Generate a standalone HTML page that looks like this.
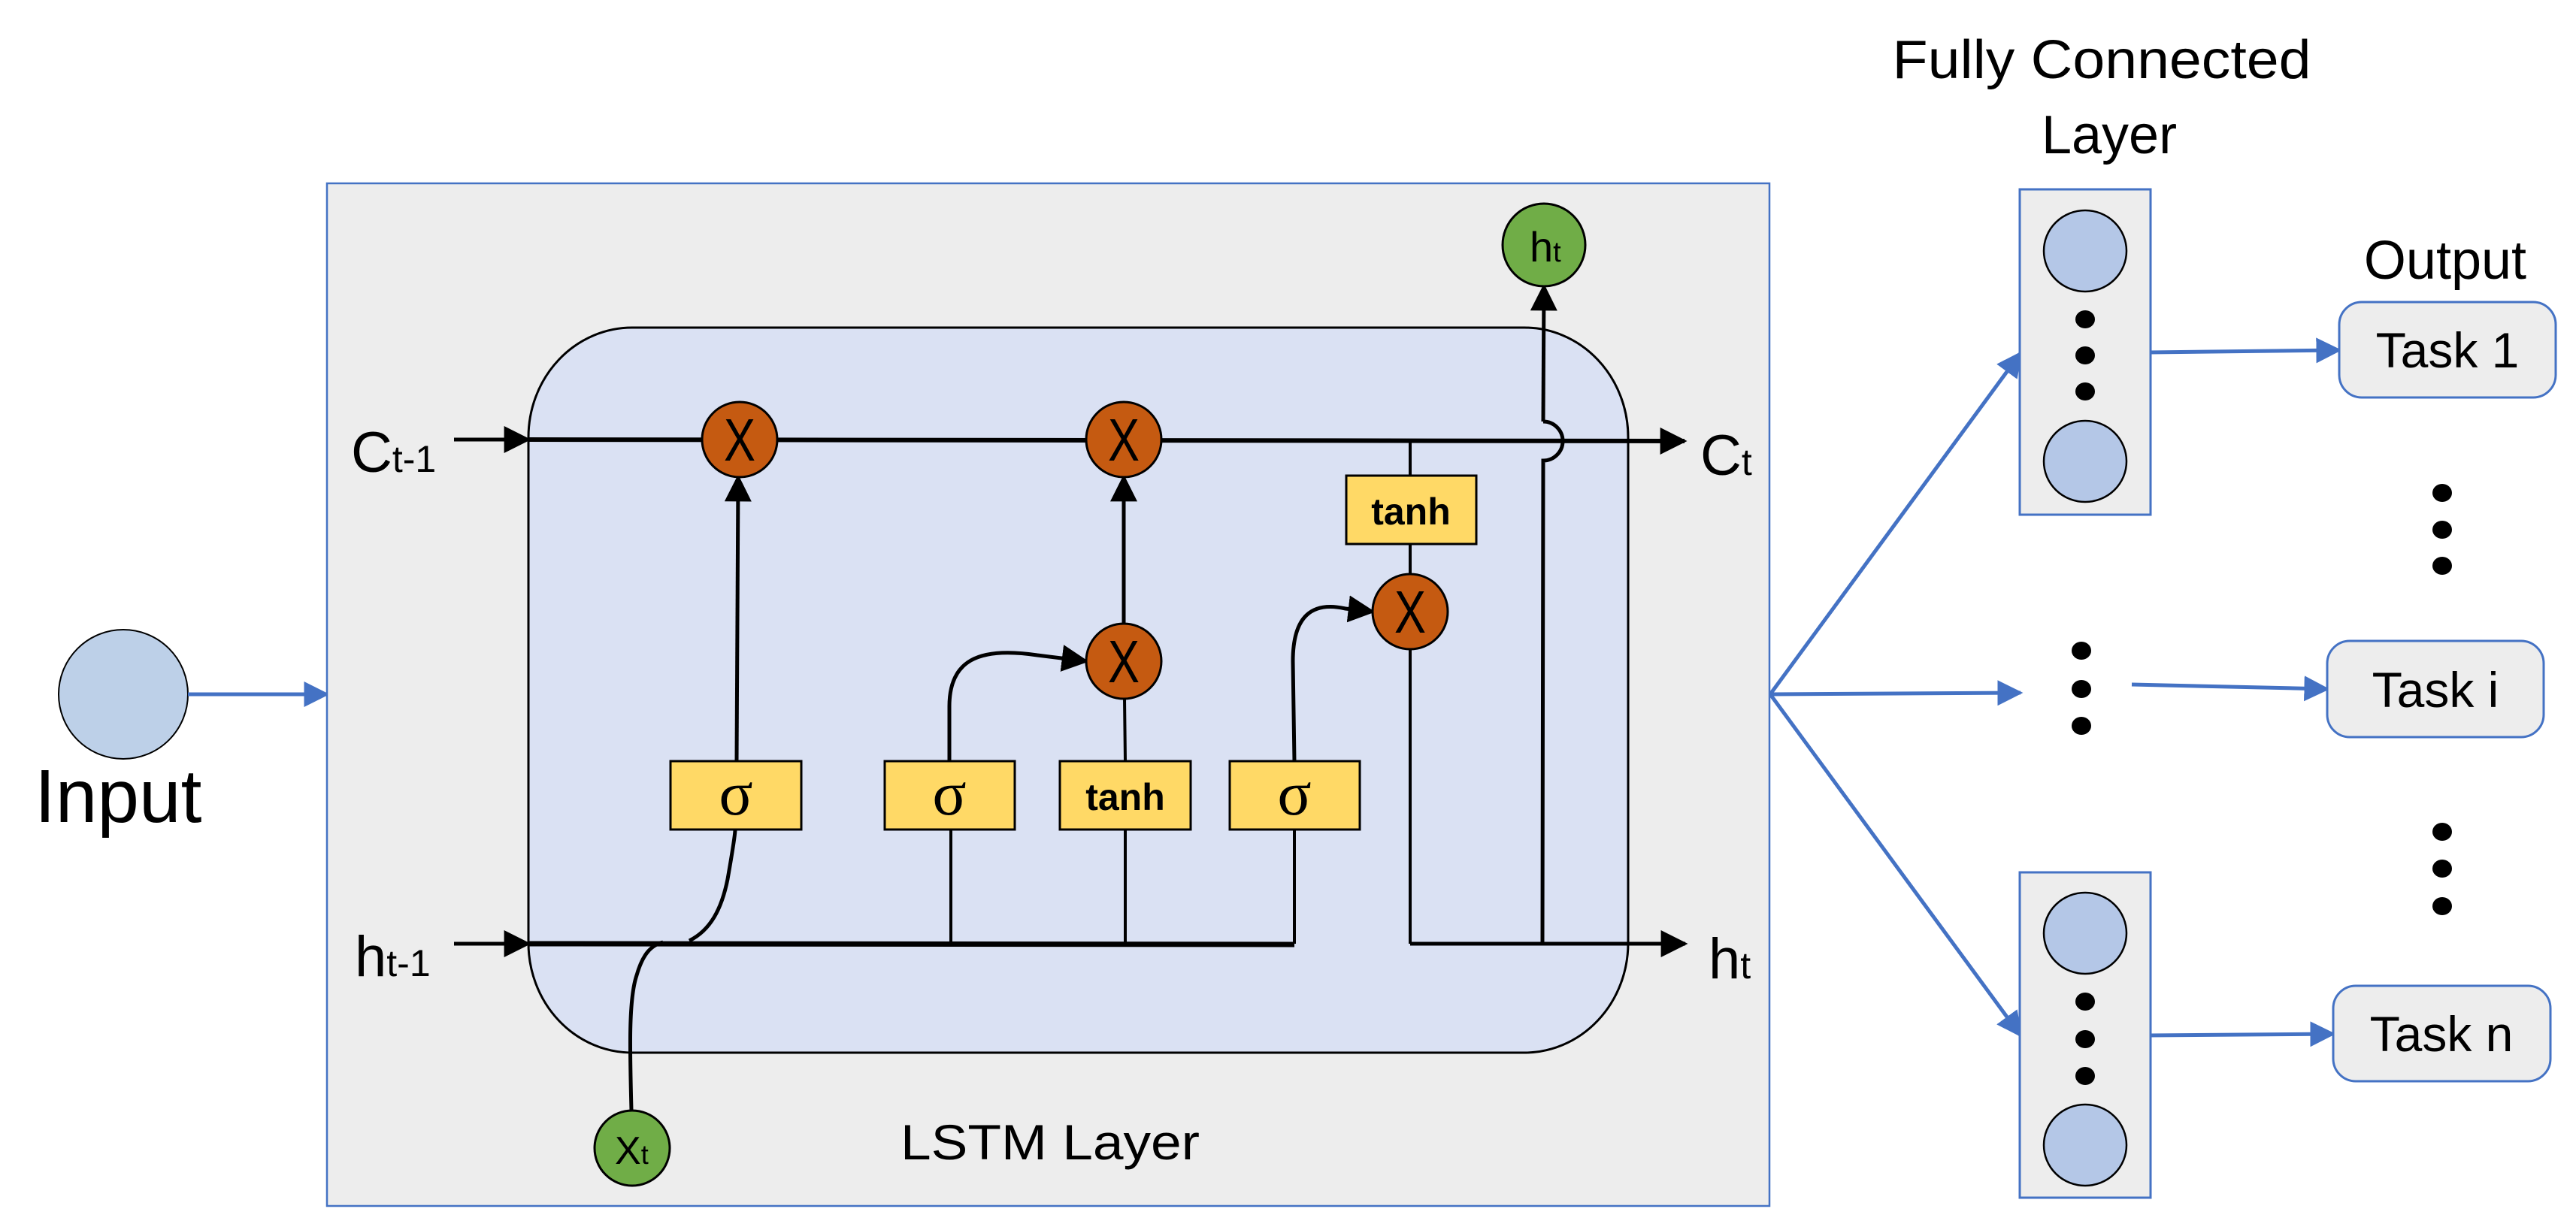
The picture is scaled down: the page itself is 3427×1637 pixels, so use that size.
<!DOCTYPE html>
<html><head><meta charset="utf-8"><style>
html,body{margin:0;padding:0;background:#fff;}
svg{display:block;}
text{font-family:"Liberation Sans",sans-serif;}
</style></head><body>
<svg width="3427" height="1637" viewBox="0 0 3427 1637" xmlns="http://www.w3.org/2000/svg">
<defs>
<marker id="abl" viewBox="0 0 10 10" refX="9" refY="5" markerWidth="36" markerHeight="36" orient="auto" markerUnits="userSpaceOnUse"><path d="M0,0 L10,5 L0,10 z" fill="#000"/></marker>
<marker id="abb" viewBox="0 0 10 10" refX="9" refY="5" markerWidth="34" markerHeight="34" orient="auto" markerUnits="userSpaceOnUse"><path d="M0,0 L10,5 L0,10 z" fill="#4472c4"/></marker>
</defs>

<circle cx="164" cy="924" r="86" fill="#bdd0e8" stroke="#000" stroke-width="2"/>
<text x="46" y="1094" font-size="100">Input</text>
<line x1="250" y1="924" x2="435" y2="924" stroke="#4472c4" stroke-width="5" marker-end="url(#abb)"/>

<rect x="435" y="244" width="1919" height="1361" fill="#ededed" stroke="#4472c4" stroke-width="2.5"/>
<rect x="703" y="436" width="1463" height="965" rx="138" ry="146" fill="#dae1f3" stroke="#000" stroke-width="3"/>
<text x="1198" y="1543" font-size="66" textLength="398" lengthAdjust="spacingAndGlyphs">LSTM Layer</text>

<line x1="604" y1="585" x2="703" y2="585" stroke="#000" stroke-width="5" marker-end="url(#abl)"/>
<path d="M703,585 L2241,587" fill="none" stroke="#000" stroke-width="6" marker-end="url(#abl)"/>
<text x="467" y="628" font-size="76">C<tspan font-size="50">t-1</tspan></text>
<text x="2262" y="632" font-size="76">C<tspan font-size="50">t</tspan></text>

<line x1="604" y1="1256" x2="703" y2="1256" stroke="#000" stroke-width="5" marker-end="url(#abl)"/>
<line x1="703" y1="1256" x2="1722" y2="1257" stroke="#000" stroke-width="7"/>
<line x1="1876" y1="1256" x2="2242" y2="1256" stroke="#000" stroke-width="5" marker-end="url(#abl)"/>
<text x="472" y="1299" font-size="76">h<tspan font-size="50">t-1</tspan></text>
<text x="2273" y="1302" font-size="76">h<tspan font-size="50">t</tspan></text>

<path d="M840,1478 C838,1400 836,1330 847,1298 C855,1270 866,1258 882,1254" fill="none" stroke="#000" stroke-width="5"/>
<path d="M917,1252 C945,1238 960,1210 968,1170 C975,1130 978,1110 978,1104" fill="none" stroke="#000" stroke-width="5"/>
<circle cx="841" cy="1528" r="50" fill="#70ad47" stroke="#000" stroke-width="3"/>
<text x="818" y="1549" font-size="52">X<tspan font-size="36">t</tspan></text>

<line x1="980" y1="1013" x2="982" y2="635" stroke="#000" stroke-width="5" marker-end="url(#abl)"/>
<line x1="1265" y1="1104" x2="1265" y2="1256" stroke="#000" stroke-width="4"/>
<path d="M1263,1013 L1263,940 C1263,880 1300,860 1380,872 L1445,880" fill="none" stroke="#000" stroke-width="5" marker-end="url(#abl)"/>
<line x1="1497" y1="1104" x2="1497" y2="1256" stroke="#000" stroke-width="4"/>
<line x1="1497" y1="1013" x2="1496" y2="930" stroke="#000" stroke-width="4"/>
<line x1="1495" y1="830" x2="1495" y2="635" stroke="#000" stroke-width="5" marker-end="url(#abl)"/>
<line x1="1722" y1="1104" x2="1722" y2="1256" stroke="#000" stroke-width="4"/>
<path d="M1722,1013 L1720,880 C1720,820 1745,800 1790,810 L1826,814" fill="none" stroke="#000" stroke-width="5" marker-end="url(#abl)"/>
<line x1="1876" y1="587" x2="1876" y2="633" stroke="#000" stroke-width="4"/>
<line x1="1876" y1="724" x2="1876" y2="764" stroke="#000" stroke-width="4"/>
<line x1="1876" y1="864" x2="1876" y2="1256" stroke="#000" stroke-width="4"/>
<path d="M2052,1256 L2053,613 A26,26 0 0 0 2053,561" fill="none" stroke="#000" stroke-width="5"/>
<path d="M2053,561 L2054,381" fill="none" stroke="#000" stroke-width="5" marker-end="url(#abl)"/>

<g stroke="#000" stroke-width="3" fill="#ffd966">
<rect x="892" y="1013" width="174" height="91"/>
<rect x="1177" y="1013" width="173" height="91"/>
<rect x="1410" y="1013" width="174" height="91"/>
<rect x="1636" y="1013" width="173" height="91"/>
<rect x="1791" y="633" width="173" height="91"/>
</g>
<g font-size="84" text-anchor="middle">
<text x="979" y="1084" style="font-family:'Liberation Serif',serif">σ</text>
<text x="1263" y="1084" style="font-family:'Liberation Serif',serif">σ</text>
<text x="1722" y="1084" style="font-family:'Liberation Serif',serif">σ</text>
</g>
<text x="1497" y="1078" font-size="50" font-weight="bold" text-anchor="middle">tanh</text>
<text x="1877" y="698" font-size="50" font-weight="bold" text-anchor="middle">tanh</text>

<g fill="#c55a11" stroke="#000" stroke-width="3">
<circle cx="984" cy="585" r="50"/>
<circle cx="1495" cy="585" r="50"/>
<circle cx="1495" cy="880" r="50"/>
<circle cx="1876" cy="814" r="50"/>
</g>
<g font-size="80" text-anchor="middle">
<text x="984" y="613" textLength="42" lengthAdjust="spacingAndGlyphs">X</text>
<text x="1495" y="613" textLength="42" lengthAdjust="spacingAndGlyphs">X</text>
<text x="1495" y="908" textLength="42" lengthAdjust="spacingAndGlyphs">X</text>
<text x="1876" y="842" textLength="42" lengthAdjust="spacingAndGlyphs">X</text>
</g>

<circle cx="2054" cy="326" r="55" fill="#70ad47" stroke="#000" stroke-width="3"/>
<text x="2035" y="348" font-size="56">h<tspan font-size="38">t</tspan></text>

<g stroke="#4472c4" stroke-width="5" fill="none">
<line x1="2355" y1="924" x2="2688" y2="470" marker-end="url(#abb)"/>
<line x1="2355" y1="924" x2="2688" y2="922" marker-end="url(#abb)"/>
<line x1="2355" y1="924" x2="2688" y2="1378" marker-end="url(#abb)"/>
<line x1="2859" y1="469" x2="3112" y2="466" marker-end="url(#abb)"/>
<line x1="2836" y1="911" x2="3096" y2="917" marker-end="url(#abb)"/>
<line x1="2859" y1="1378" x2="3104" y2="1376" marker-end="url(#abb)"/>
</g>

<g stroke="#4472c4" stroke-width="3" fill="#ededed">
<rect x="2687" y="252" width="174" height="433"/>
<rect x="2687" y="1161" width="174" height="433"/>
</g>
<g fill="#b4c7e7" stroke="#000" stroke-width="2.5">
<ellipse cx="2774" cy="334" rx="55" ry="54"/>
<ellipse cx="2774" cy="614" rx="55" ry="54"/>
<ellipse cx="2774" cy="1242" rx="55" ry="54"/>
<ellipse cx="2774" cy="1524" rx="55" ry="54"/>
</g>
<g fill="#000">
<ellipse cx="2774" cy="425" rx="13" ry="12"/><ellipse cx="2774" cy="473" rx="13" ry="12"/><ellipse cx="2774" cy="521" rx="13" ry="12"/>
<ellipse cx="2774" cy="1333" rx="13" ry="12"/><ellipse cx="2774" cy="1383" rx="13" ry="12"/><ellipse cx="2774" cy="1432" rx="13" ry="12"/>
<ellipse cx="2769" cy="866" rx="13" ry="12"/><ellipse cx="2769" cy="917" rx="13" ry="12"/><ellipse cx="2769" cy="966" rx="13" ry="12"/>
<ellipse cx="3249" cy="656" rx="13" ry="12"/><ellipse cx="3249" cy="705" rx="13" ry="12"/><ellipse cx="3249" cy="753" rx="13" ry="12"/>
<ellipse cx="3249" cy="1107" rx="13" ry="12"/><ellipse cx="3249" cy="1156" rx="13" ry="12"/><ellipse cx="3249" cy="1206" rx="13" ry="12"/>
</g>

<g stroke="#4472c4" stroke-width="3" fill="#ededed">
<rect x="3112" y="402" width="288" height="127" rx="30"/>
<rect x="3096" y="853" width="288" height="128" rx="30"/>
<rect x="3104" y="1312" width="289" height="127" rx="30"/>
</g>
<g font-size="66" text-anchor="middle">
<text x="3256" y="489">Task 1</text>
<text x="3240" y="941">Task i</text>
<text x="3248" y="1399">Task n</text>
</g>
<text x="2796" y="104" font-size="72" text-anchor="middle" textLength="557" lengthAdjust="spacingAndGlyphs">Fully Connected</text>
<text x="2806" y="204" font-size="72" text-anchor="middle">Layer</text>
<text x="3253" y="371" font-size="72" text-anchor="middle">Output</text>
</svg>
</body></html>
